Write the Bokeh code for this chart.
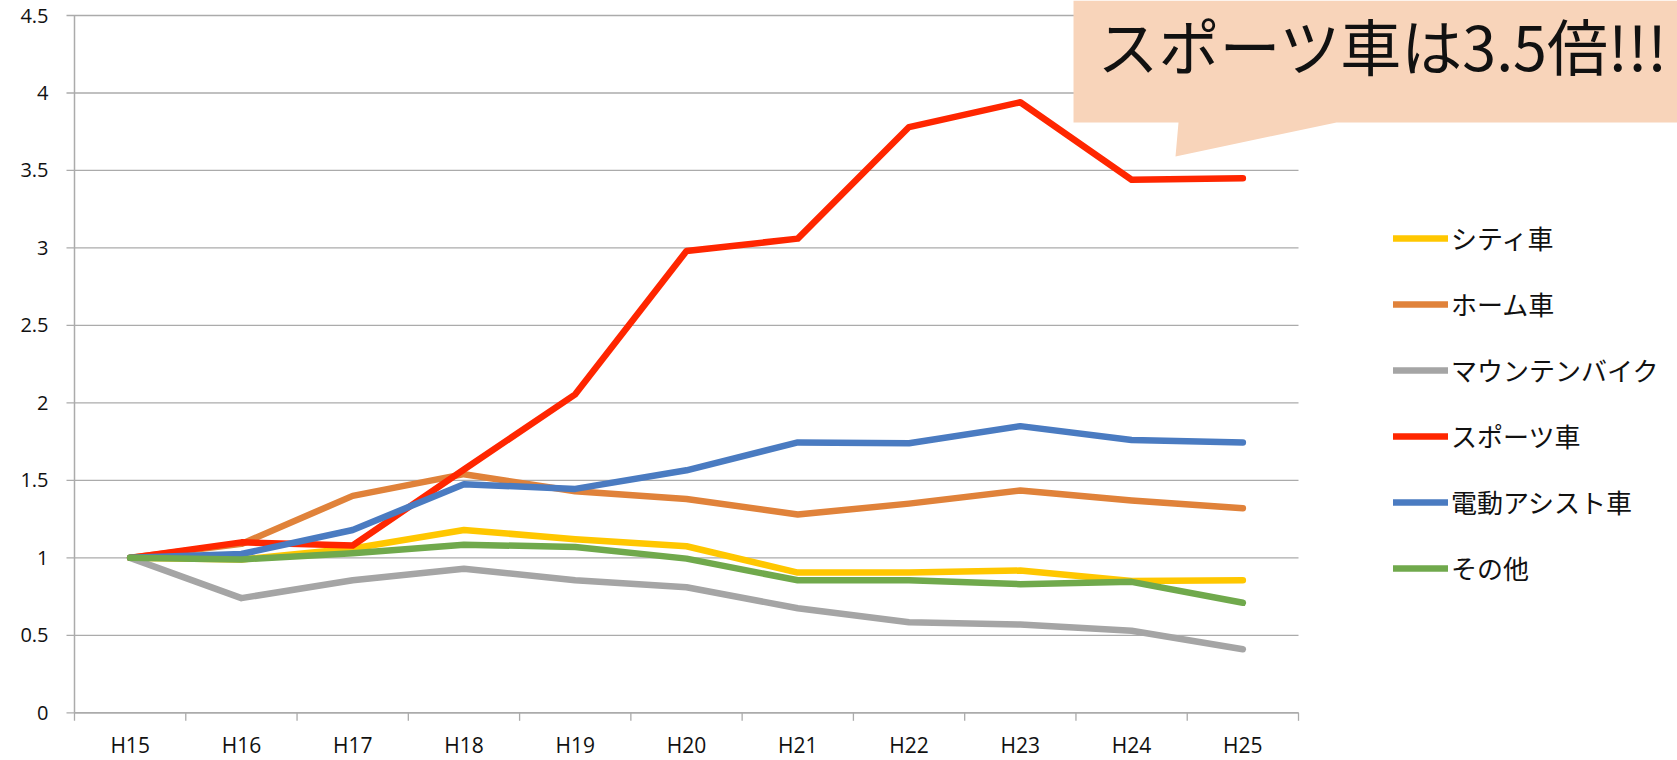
from bokeh.plotting import figure
from bokeh.models import Range1d, Legend, LegendItem, Label, PolyAnnotation
from bokeh.core.properties import value
from bokeh.embed import file_html
from bokeh.resources import INLINE

years = ["H15", "H16", "H17", "H18", "H19", "H20", "H21", "H22", "H23", "H24", "H25"]
city = [1.0, 0.99, 1.06, 1.18, 1.12, 1.075, 0.905, 0.905, 0.918, 0.85, 0.855]
home = [1.0, 1.09, 1.40, 1.54, 1.43, 1.38, 1.28, 1.35, 1.435, 1.37, 1.32]
mtb = [1.0, 0.74, 0.855, 0.93, 0.855, 0.81, 0.675, 0.585, 0.57, 0.53, 0.41]
sports = [1.0, 1.10, 1.08, 1.57, 2.055, 2.98, 3.06, 3.78, 3.94, 3.44, 3.45]
assist = [1.0, 1.025, 1.18, 1.475, 1.445, 1.565, 1.745, 1.74, 1.85, 1.76, 1.745]
other = [1.0, 0.99, 1.03, 1.085, 1.07, 0.995, 0.855, 0.855, 0.83, 0.845, 0.71]

series_names = ["シティ車", "ホーム車", "マウンテンバイク", "スポーツ車", "電動アシスト車", "その他"]
series_values = [city, home, mtb, sports, assist, other]
series_colors = ["#FFC700", "#E0823A", "#A5A5A5", "#FF2600", "#4A7BC1", "#70A94C"]

y_ticks = [0, 0.5, 1, 1.5, 2, 2.5, 3, 3.5, 4, 4.5]
y_tick_labels = ["0", "0.5", "1", "1.5", "2", "2.5", "3", "3.5", "4", "4.5"]
callout_text = "スポーツ車は3.5倍!!!"

W, H = 1677, 760
axis_x = 74.0                # pixel column of the y axis
axis_y = 712.3               # pixel row of the x axis (value 0)
px_per_x = 1224 / 11.0       # category width in pixels
px_per_y = (712.3 - 15) / 4.5

n = len(years)
p = figure(width=W, height=H, output_backend="svg", toolbar_location=None,
           x_range=Range1d(-axis_x / px_per_x, (W - axis_x) / px_per_x),
           y_range=Range1d(-(H - axis_y) / px_per_y, axis_y / px_per_y),
           x_axis_location=None, y_axis_location=None,
           min_border=0)
p.outline_line_color = None
p.background_fill_color = "white"
p.border_fill_color = "white"
p.xgrid.grid_line_color = None
p.ygrid.grid_line_color = None

grid_col = "#ABABAB"
tick_x = 8 / px_per_x
tick_y = 8 / px_per_y

# horizontal gridlines (continuing left as the y-axis tick marks)
p.segment(x0=[-tick_x] * len(y_ticks), x1=[n] * len(y_ticks), y0=y_ticks, y1=y_ticks,
          line_color=grid_col, line_width=1.3)
# y axis line
p.segment(x0=[0], x1=[0], y0=[0], y1=[y_ticks[-1]], line_color=grid_col, line_width=1.5)
# x axis line and boundary ticks
p.segment(x0=[0], x1=[n], y0=[0], y1=[0], line_color=grid_col, line_width=1.5)
bounds = list(range(n + 1))
p.segment(x0=bounds, x1=bounds, y0=[0] * len(bounds), y1=[-tick_y] * len(bounds),
          line_color=grid_col, line_width=1.3)

# y tick labels
p.text(x=[-26 / px_per_x] * len(y_ticks), y=y_ticks, text=y_tick_labels,
       text_align="right", text_baseline="middle",
       text_font=value("Open Sans"), text_font_size="20px", text_color="#111111")

xs = [i + 0.5 for i in range(n)]
# x tick labels (category names at the centres)
p.text(x=xs, y=[-(744 - axis_y) / px_per_y] * n, text=years,
       text_align="center", text_baseline="middle",
       text_font=value("Open Sans"), text_font_size="21px", text_color="#111111")

renderers = []
for vals, col in zip(series_values, series_colors):
    r = p.line(xs, vals, line_color=col, line_width=6.5,
               line_cap="round", line_join="round")
    renderers.append(r)

legend = Legend(items=[LegendItem(label=nm, renderers=[r]) for nm, r in zip(series_names, renderers)],
                location=(1393, 174), padding=0, margin=0, spacing=29,
                glyph_width=55, glyph_height=26, label_height=26,
                label_standoff=3, border_line_color=None,
                background_fill_alpha=0,
                label_text_font="Noto Sans CJK JP", label_text_font_size="26px",
                label_text_color="#111111")
p.add_layout(legend, "center")

# callout bubble (screen units, relative to the frame's bottom-left)
cx = [1073, 1677, 1677, 1336, 1175, 1178, 1073]
cy = [0, 0, 122, 122, 156, 122, 122]
callout = PolyAnnotation(xs=cx, ys=[H - v for v in cy],
                         xs_units="screen", ys_units="screen",
                         fill_color="#F8D4BA", fill_alpha=1.0, line_color=None)
p.add_layout(callout)

lab = Label(x=1097, y=H - 44, x_units="screen", y_units="screen",
            text=callout_text,
            text_font="Noto Sans CJK JP", text_font_size="61px",
            text_color="#111111", text_baseline="middle", text_align="left")
p.add_layout(lab)

open("out.html", "w").write(file_html(p, INLINE))
